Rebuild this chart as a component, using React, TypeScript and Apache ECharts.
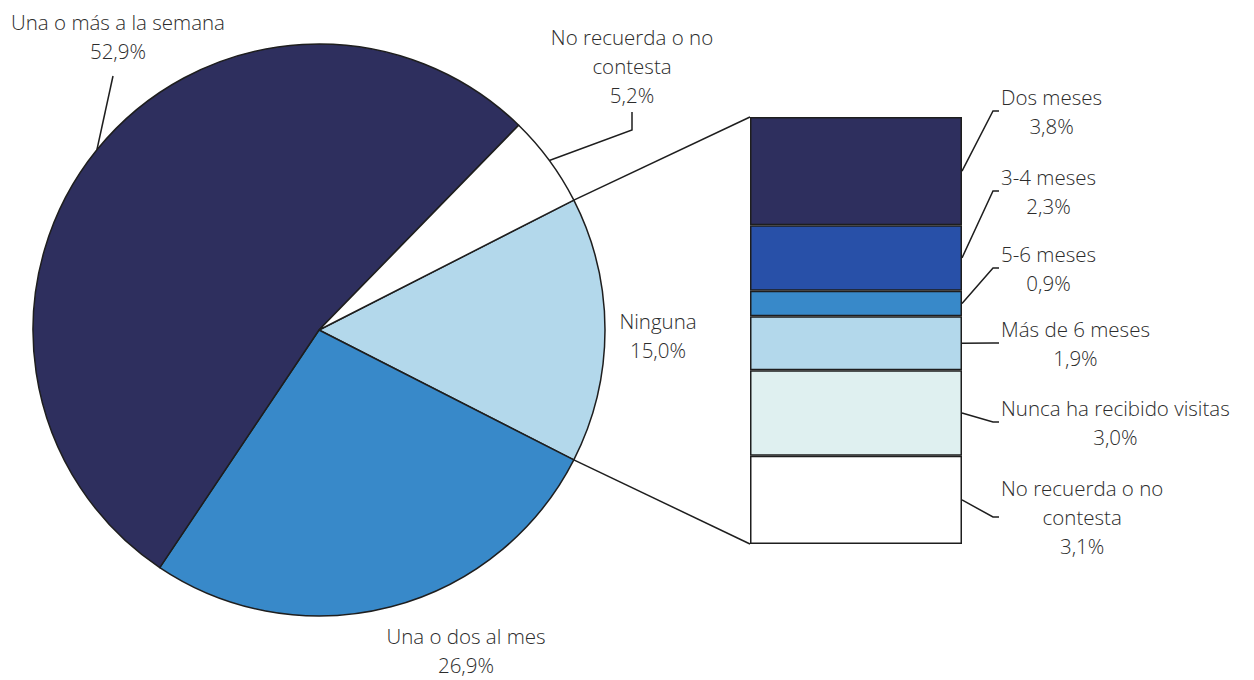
import React, { useEffect, useRef } from "react";
import * as echarts from "echarts";

// ---- data ----
const pieNames = ["Ninguna", "Una o dos al mes", "Una o más a la semana", "No recuerda o no contesta"];
const pieLabels = ["Ninguna", "Una o dos al mes", "Una o más a la semana", "No recuerda o no\ncontesta"];
const pieValues = [15.0, 26.9, 52.9, 5.2];
const pieColors = ["#B3D8EB", "#3889C9", "#2E2F5E", "#FFFFFF"];

const barNames = ["Dos meses", "3-4 meses", "5-6 meses", "Más de 6 meses", "Nunca ha recibido visitas", "No recuerda o no contesta"];
const barLabels = ["Dos meses", "3-4 meses", "5-6 meses", "Más de 6 meses", "Nunca ha recibido visitas", "No recuerda o no\ncontesta"];
const barValues = [3.8, 2.3, 0.9, 1.9, 3.0, 3.1];
const barColors = ["#2E2F5E", "#2850A8", "#3889C9", "#B3D8EB", "#DFF0F0", "#FFFFFF"];

// ---- layout ----
const PIE_CX = 319;
const PIE_CY = 330;
const PIE_R = 286;
const START_ANGLE = 27;
const GRID = { left: 750, top: 117, width: 212, height: 427 };
const pieLabelPos = [[658, 335], [466, 650], [118, 36], [632, 66]];
const barLabelY = [111, 191, 268, 343, 422, 517];
const BAR_LABEL_LEFT = 1001;

const FONT = "'Open Sans'";
const TEXT_COLOR = "#2c2c2c";
const LINE_COLOR = "#1e1e1e";

const fmt = (v: number) => v.toFixed(1).replace(".", ",") + "%";

function edgePoint(angleDeg: number) {
  const a = (angleDeg * Math.PI) / 180;
  return [PIE_CX + PIE_R * Math.cos(a), PIE_CY - PIE_R * Math.sin(a)];
}

export default function App() {
  const ref = useRef<HTMLDivElement>(null);
  useEffect(() => {
    document.body.style.margin = "0";
    const chart = echarts.init(ref.current!, null, { renderer: "svg" });
    const total = pieValues.reduce((a, b) => a + b, 0);
    const midAngles: number[] = [];
    let cum = 0;
    pieValues.forEach((v) => {
      midAngles.push(START_ANGLE - (360 * (cum + v / 2)) / total);
      cum += v;
    });
    const detailIdx = 0; // "Ninguna" is broken down in the bar
    const detailStart = START_ANGLE;
    const detailEnd = START_ANGLE - (360 * pieValues[detailIdx]) / total;
    const pTop = edgePoint(detailStart);
    const pBot = edgePoint(detailEnd);

    const labelStyle = {
      fontFamily: FONT,
      fontSize: 20.5,
      fontWeight: 300,
      lineHeight: 29,
      color: TEXT_COLOR,
    };

    const pieSeries: any = {
      type: "pie",
      center: [PIE_CX, PIE_CY],
      radius: PIE_R,
      startAngle: START_ANGLE,
      clockwise: true,
      avoidLabelOverlap: false,
      itemStyle: { borderColor: LINE_COLOR, borderWidth: 1.5 },
      label: {
        show: true,
        ...labelStyle,
        align: "center",
        formatter: (p: any) => pieLabels[p.dataIndex] + "\n" + fmt(p.value),
      },
      labelLine: { show: true, lineStyle: { color: LINE_COLOR, width: 1.5 } },
      emphasis: { disabled: true },
      data: pieNames.map((n, i) => ({
        name: n,
        value: pieValues[i],
        itemStyle: { color: pieColors[i] },
        labelLine: { show: i >= 2 },
      })),
      labelLayout: (params: any) => {
        const i = params.dataIndex;
        const [x, y] = pieLabelPos[i];
        const res: any = { x, y, align: "center", verticalAlign: "middle" };
        const e = edgePoint(midAngles[i]);
        if (i === 2) {
          res.labelLinePoints = [e, [113, 76], [113, 76]];
        } else if (i === 3) {
          res.labelLinePoints = [e, [632, 130], [632, 112]];
        }
        return res;
      },
    };

    const barTotal = barValues.reduce((a, b) => a + b, 0);
    const barMidY: number[] = [];
    let bcum = 0;
    barValues.forEach((v) => {
      barMidY.push(GRID.top + (GRID.height * (bcum + v / 2)) / barTotal);
      bcum += v;
    });

    const barSeries = barNames.map((n, i) => ({
      type: "bar",
      name: n,
      stack: "detail",
      barWidth: "100%",
      data: [barValues[i]],
      itemStyle: { color: barColors[i], borderColor: LINE_COLOR, borderWidth: 1.5 },
      emphasis: { disabled: true },
      label: {
        show: true,
        position: "right",
        ...labelStyle,
        align: "center",
        formatter: () => barLabels[i] + "\n" + fmt(barValues[i]),
      },
      labelLayout: (params: any) => {
        const w = params.labelRect.width;
        return {
          x: BAR_LABEL_LEFT + w / 2,
          y: barLabelY[i],
          align: "center",
          verticalAlign: "middle",
        };
      },
    }));

    const leaders = barValues.map((_, i) => ({
      type: "polyline",
      shape: {
        points: [
          [GRID.left + GRID.width, barMidY[i]],
          [BAR_LABEL_LEFT - 8, barLabelY[i]],
          [BAR_LABEL_LEFT - 2, barLabelY[i]],
        ],
      },
      style: { stroke: LINE_COLOR, lineWidth: 1.5, fill: null },
      z: 10,
    }));

    chart.setOption({
      animation: false,
      backgroundColor: "#ffffff",
      grid: { ...GRID, containLabel: false },
      xAxis: { type: "category", data: ["Ninguna"], show: false },
      yAxis: { type: "value", min: 0, max: pieValues[detailIdx], inverse: true, show: false },
      series: [pieSeries, ...barSeries],
      graphic: [
        {
          type: "line",
          shape: { x1: pTop[0], y1: pTop[1], x2: GRID.left, y2: GRID.top },
          style: { stroke: LINE_COLOR, lineWidth: 1.5 },
          z: 10,
        },
        {
          type: "line",
          shape: { x1: pBot[0], y1: pBot[1], x2: GRID.left, y2: GRID.top + GRID.height },
          style: { stroke: LINE_COLOR, lineWidth: 1.5 },
          z: 10,
        },
        ...leaders,
      ],
    });
    return () => chart.dispose();
  }, []);
  return (
    <div
      ref={ref}
      style={{ position: "absolute", left: 0, top: 0, width: 1254, height: 680 }}
    />
  );
}
